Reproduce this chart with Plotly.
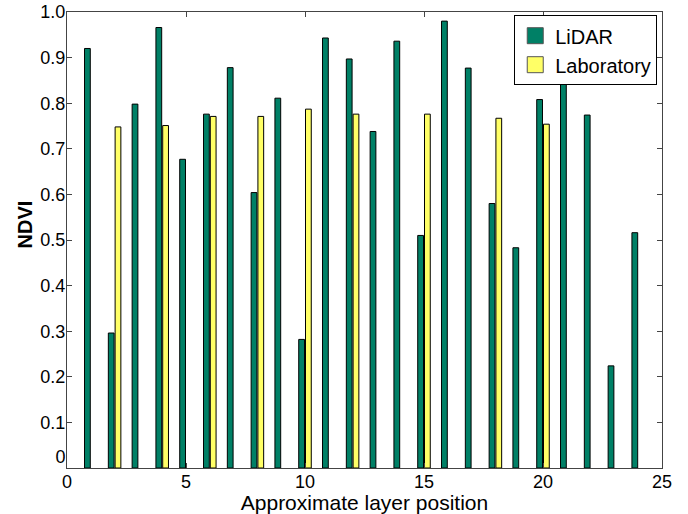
import plotly.graph_objects as go

positions = list(range(1, 25))
lidar = [0.920, 0.296, 0.798, 0.966, 0.677, 0.776, 0.878, 0.604, 0.811, 0.282,
         0.943, 0.897, 0.738, 0.936, 0.510, 0.980, 0.877, 0.580, 0.483, 0.808,
         0.849, 0.774, 0.224, 0.516]
laboratory = [None, 0.748, None, 0.751, None, 0.771, None, 0.771, None, 0.787,
              None, 0.776, None, None, 0.776, None, None, 0.767, None, 0.754,
              None, None, None, None]
series_names = ["LiDAR", "Laboratory"]
series_colors = ["rgb(0,128,102)", "rgb(255,255,102)"]

x_ticks = [0, 5, 10, 15, 20, 25]
y_ticks = [0, 0.1, 0.2, 0.3, 0.4, 0.5, 0.6, 0.7, 0.8, 0.9, 1.0]
y_tick_text = ["0<br>&nbsp;", "0.1", "0.2", "0.3", "0.4", "0.5", "0.6", "0.7", "0.8", "0.9", "1.0"]

FONT = "Liberation Sans, Arial, Helvetica, sans-serif"

fig = go.Figure()
for name, vals, col in zip(series_names, [lidar, laboratory], series_colors):
    fig.add_trace(go.Bar(x=positions, y=vals, name=name, showlegend=False,
                         marker=dict(color=col, line=dict(color="black", width=1))))
# legend entries with larger swatches
for name, col in zip(series_names, series_colors):
    fig.add_trace(go.Scatter(x=[None], y=[None], mode="markers", name=name,
                             marker=dict(symbol="square", size=16, color=col,
                                         line=dict(color="#555", width=1))))

axis_common = dict(showgrid=False, zeroline=False, showline=True, linecolor="#444",
                   linewidth=1, mirror="ticks", ticks="inside", ticklen=5,
                   tickcolor="#444", automargin=False, ticklabelstandoff=-3,
                   tickfont=dict(family=FONT, size=18, color="black"))

fig.update_layout(
    width=688, height=514,
    margin=dict(l=67, r=26, t=12, b=46),
    paper_bgcolor="white", plot_bgcolor="white",
    barmode="group", bargap=0.43, bargroupgap=0.15,
    font=dict(family=FONT, color="black"),
    xaxis=dict(range=[0, 25], tickvals=x_ticks,
               title=dict(text="Approximate layer position", font=dict(family=FONT, size=21), standoff=0),
               **axis_common),
    yaxis=dict(range=[0, 1], tickvals=y_ticks, ticktext=y_tick_text, **axis_common),
    legend=dict(x=0.992, y=0.993, xanchor="right", yanchor="top",
                bordercolor="black", borderwidth=1, bgcolor="white",
                font=dict(family=FONT, size=20), tracegroupgap=0,
                itemwidth=30, itemsizing="trace"),
    showlegend=True,
    annotations=[dict(text="<b>NDVI</b>", textangle=-90, xref="paper", yref="paper",
                      x=-0.07, y=0.535, xanchor="center", yanchor="middle",
                      showarrow=False, font=dict(family=FONT, size=20))],
)

fig.write_html("out.html", config={"displayModeBar": False},
               post_script="document.body.style.margin='0';")
